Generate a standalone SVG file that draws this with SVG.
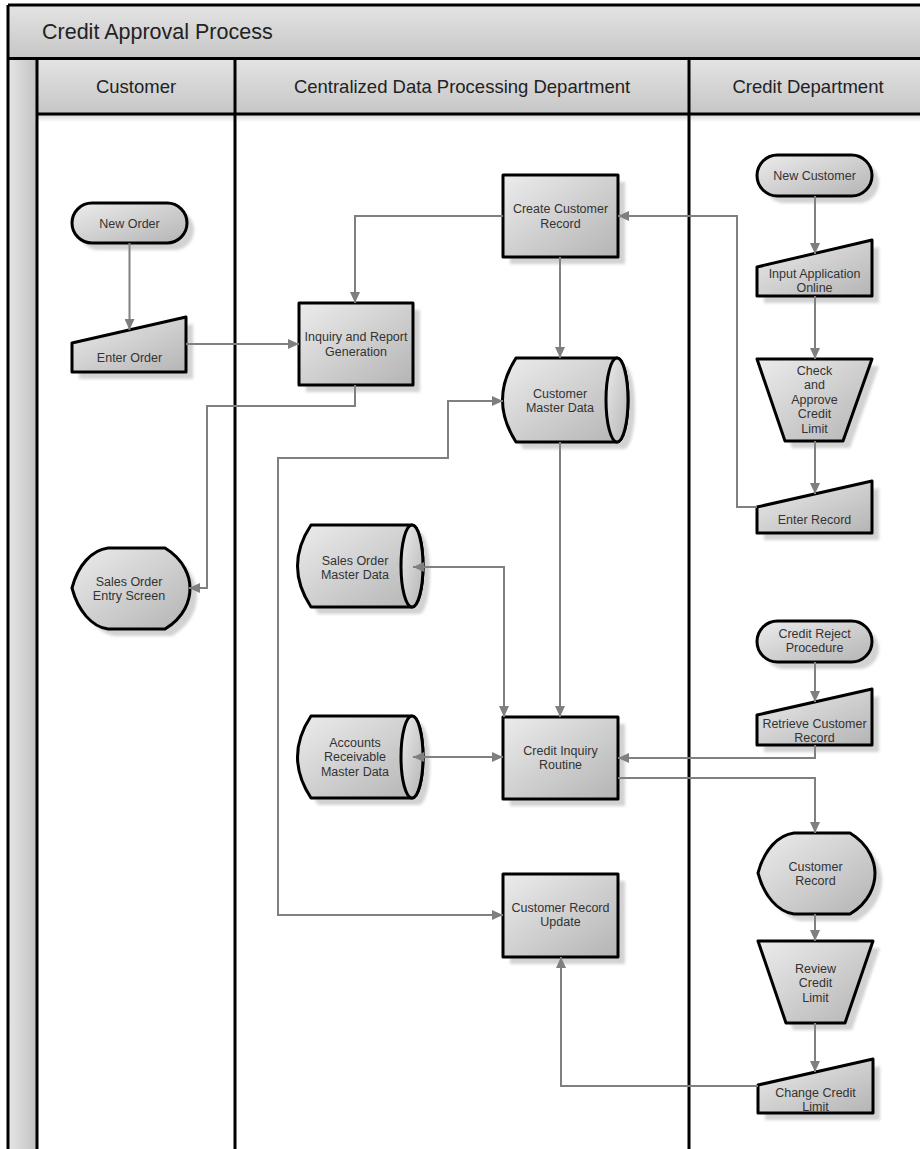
<svg xmlns="http://www.w3.org/2000/svg" width="920" height="1149" viewBox="0 0 920 1149">
<defs>
<linearGradient id="gNode" x1="0" y1="0" x2="1" y2="1"><stop offset="0" stop-color="#ececec"/><stop offset="1" stop-color="#b4b4b4"/></linearGradient>
<linearGradient id="gHead" x1="0" y1="0" x2="0" y2="1"><stop offset="0" stop-color="#e4e4e4"/><stop offset="1" stop-color="#c6c6c6"/></linearGradient>
<linearGradient id="gBand" x1="0" y1="0" x2="1" y2="0"><stop offset="0" stop-color="#e6e6e6"/><stop offset="1" stop-color="#c2c2c2"/></linearGradient>
<linearGradient id="gStrip" x1="0" y1="0" x2="0" y2="1"><stop offset="0" stop-color="#d6d6d6"/><stop offset="1" stop-color="#ffffff"/></linearGradient>
<filter id="blur" x="-10%" y="-10%" width="120%" height="120%"><feGaussianBlur stdDeviation="1.5"/></filter>
<marker id="arr" markerUnits="userSpaceOnUse" markerWidth="12" markerHeight="10" refX="11" refY="5" orient="auto-start-reverse"><path d="M0,0 L11,5 L0,10 Z" fill="#7f7f7f"/></marker>
<style>
.shape{fill:url(#gNode);stroke:#000;stroke-width:3;stroke-linejoin:round}
.shadow{fill:#d2d2d2;filter:url(#blur)}
.t{font-family:"Liberation Sans",Arial,sans-serif;font-size:12.5px;fill:#333;text-anchor:middle}
.h{font-family:"Liberation Sans",Arial,sans-serif;font-size:18.5px;fill:#222;text-anchor:middle}
.ln{fill:none;stroke:#808080;stroke-width:2}
.a1{marker-end:url(#arr)}
.a2{marker-start:url(#arr);marker-end:url(#arr)}
.lane{stroke:#000;stroke-width:3}
</style>
</defs>
<rect x="0" y="0" width="920" height="1149" fill="#fff"/>
<g id="pool">
<rect x="8" y="5" width="920" height="53" fill="url(#gHead)"/>
<rect x="8" y="58" width="29" height="1100" fill="url(#gBand)"/>
<rect x="37" y="58" width="890" height="56" fill="url(#gHead)"/>
<rect x="37" y="115" width="890" height="7" fill="url(#gStrip)"/>
<line class="lane" x1="8" y1="5" x2="920" y2="5"/>
<line class="lane" x1="8" y1="5" x2="8" y2="1149"/>
<line class="lane" x1="8" y1="58.5" x2="920" y2="58.5"/>
<line class="lane" x1="37" y1="114" x2="920" y2="114"/>
<line class="lane" x1="37" y1="58" x2="37" y2="1149"/>
<line class="lane" x1="235" y1="58" x2="235" y2="1149"/>
<line class="lane" x1="689" y1="58" x2="689" y2="1149"/>
<text x="42" y="39" font-family="Liberation Sans,Arial,sans-serif" font-size="21.5" fill="#222">Credit Approval Process</text>
<text class="h" x="136" y="93">Customer</text>
<text class="h" x="462" y="93">Centralized Data Processing Department</text>
<text class="h" x="808" y="93">Credit Department</text>
</g>

<g id="new-order">
<rect class="shadow" x="79" y="210" width="115" height="40" rx="20"/>
<rect class="shape" x="72" y="203" width="115" height="40" rx="20"/>
<text class="t" x="129.5" y="227.5">New Order</text>
</g>
<g id="enter-order">
<path class="shadow" d="M79,350 L193,324 L193,379 L79,379 Z"/>
<path class="shape" d="M72,343 L186,317 L186,372 L72,372 Z"/>
<text class="t" x="129.5" y="361.5">Enter Order</text>
</g>
<g id="inquiry-report">
<rect class="shadow" x="306" y="310" width="114" height="82"/>
<rect class="shape" x="299" y="303" width="114" height="82"/>
<text class="t" x="356" y="340.5">Inquiry and Report</text>
<text class="t" x="356" y="355.5">Generation</text>
</g>
<g id="sales-order-entry-screen">
<path class="shadow" d="M79,595 C85,572 99,557 115,555 L172,555 C192,567 197,585 197,595 C197,607 192,624 172,636 L115,636 C99,634 85,618 79,595 Z"/>
<path class="shape" d="M72,588 C78,565 92,550 108,548 L165,548 C185,560 190,578 190,588 C190,600 185,617 165,629 L108,629 C92,627 78,611 72,588 Z"/>
<text class="t" x="129" y="585.5">Sales Order</text>
<text class="t" x="129" y="599.5">Entry Screen</text>
</g>

<g id="create-customer-record">
<rect class="shadow" x="510" y="182" width="115" height="82"/>
<rect class="shape" x="503" y="175" width="115" height="82"/>
<text class="t" x="560.5" y="212.5">Create Customer</text>
<text class="t" x="560.5" y="227.5">Record</text>
</g>
<g id="customer-master-data">
<path class="shadow" d="M523,365 L624,365 A11,42 0 0 1 624,449 L523,449 Q496,407 523,365 Z"/>
<path class="shape" d="M516,358 L617,358 A11,42 0 0 1 617,442 L516,442 Q489,400 516,358 Z"/>
<ellipse class="shape" cx="617" cy="400" rx="11" ry="42"/>
<text class="t" x="560" y="397.5">Customer</text>
<text class="t" x="560" y="411.5">Master Data</text>
</g>
<g id="sales-order-master-data">
<path class="shadow" d="M318,532 L419,532 A11,41 0 0 1 419,614 L318,614 Q291,573 318,532 Z"/>
<path class="shape" d="M311,525 L412,525 A11,41 0 0 1 412,607 L311,607 Q284,566 311,525 Z"/>
<ellipse class="shape" cx="412" cy="566" rx="11" ry="41"/>
<text class="t" x="355" y="564.5">Sales Order</text>
<text class="t" x="355" y="578.5">Master Data</text>
</g>
<g id="accounts-receivable-master-data">
<path class="shadow" d="M318,723 L419,723 A11,41 0 0 1 419,805 L318,805 Q291,764 318,723 Z"/>
<path class="shape" d="M311,716 L412,716 A11,41 0 0 1 412,798 L311,798 Q284,757 311,716 Z"/>
<ellipse class="shape" cx="412" cy="757" rx="11" ry="41"/>
<text class="t" x="355" y="746.5">Accounts</text>
<text class="t" x="355" y="761">Receivable</text>
<text class="t" x="355" y="775.5">Master Data</text>
</g>
<g id="credit-inquiry-routine">
<rect class="shadow" x="510" y="724" width="115" height="82"/>
<rect class="shape" x="503" y="717" width="115" height="82"/>
<text class="t" x="560.5" y="754.5">Credit Inquiry</text>
<text class="t" x="560.5" y="768.5">Routine</text>
</g>
<g id="customer-record-update">
<rect class="shadow" x="510" y="881" width="115" height="83"/>
<rect class="shape" x="503" y="874" width="115" height="83"/>
<text class="t" x="560.5" y="911.5">Customer Record</text>
<text class="t" x="560.5" y="925.5">Update</text>
</g>

<g id="new-customer">
<rect class="shadow" x="764" y="162" width="115" height="41" rx="20.5"/>
<rect class="shape" x="757" y="155" width="115" height="41" rx="20.5"/>
<text class="t" x="814.5" y="179.5">New Customer</text>
</g>
<g id="input-application-online">
<path class="shadow" d="M764,274 L879,247 L879,303 L764,303 Z"/>
<path class="shape" d="M757,267 L872,240 L872,296 L757,296 Z"/>
<text class="t" x="814.5" y="277.5">Input Application</text>
<text class="t" x="814.5" y="291.5">Online</text>
</g>
<g id="check-approve-credit-limit">
<path class="shadow" d="M764,366 L879,366 L850,448 L792,448 Z"/>
<path class="shape" d="M757,359 L872,359 L843,441 L785,441 Z"/>
<text class="t" x="814.5" y="374.5">Check</text>
<text class="t" x="814.5" y="389">and</text>
<text class="t" x="814.5" y="403.5">Approve</text>
<text class="t" x="814.5" y="418">Credit</text>
<text class="t" x="814.5" y="432.5">Limit</text>
</g>
<g id="enter-record">
<path class="shadow" d="M764,514 L879,488 L879,540 L764,540 Z"/>
<path class="shape" d="M757,507 L872,481 L872,533 L757,533 Z"/>
<text class="t" x="814.5" y="523.5">Enter Record</text>
</g>
<g id="credit-reject-procedure">
<rect class="shadow" x="764" y="628" width="115" height="41" rx="20.5"/>
<rect class="shape" x="757" y="621" width="115" height="41" rx="20.5"/>
<text class="t" x="814.5" y="637.5">Credit Reject</text>
<text class="t" x="814.5" y="652">Procedure</text>
</g>
<g id="retrieve-customer-record">
<path class="shadow" d="M764,722 L879,696 L879,752 L764,752 Z"/>
<path class="shape" d="M757,715 L872,689 L872,745 L757,745 Z"/>
<text class="t" x="814.5" y="727.5">Retrieve Customer</text>
<text class="t" x="814.5" y="741.5">Record</text>
</g>
<g id="customer-record">
<path class="shadow" d="M765,880 C771,857 785,842 801,840 L857,840 C877,852 882,870 882,880 C882,892 877,909 857,921 L801,921 C785,919 771,903 765,880 Z"/>
<path class="shape" d="M758,873 C764,850 778,835 794,833 L850,833 C870,845 875,863 875,873 C875,885 870,902 850,914 L794,914 C778,912 764,896 758,873 Z"/>
<text class="t" x="815.5" y="870.5">Customer</text>
<text class="t" x="815.5" y="884.5">Record</text>
</g>
<g id="review-credit-limit">
<path class="shadow" d="M765,948 L880,948 L852,1030 L793,1030 Z"/>
<path class="shape" d="M758,941 L873,941 L845,1023 L786,1023 Z"/>
<text class="t" x="815.5" y="972.5">Review</text>
<text class="t" x="815.5" y="987">Credit</text>
<text class="t" x="815.5" y="1001.5">Limit</text>
</g>
<g id="change-credit-limit">
<path class="shadow" d="M765,1092 L880,1066 L880,1120 L765,1120 Z"/>
<path class="shape" d="M758,1085 L873,1059 L873,1113 L758,1113 Z"/>
<text class="t" x="815.5" y="1096.5">Change Credit</text>
<text class="t" x="815.5" y="1110.5">Limit</text>
</g>

<g id="connectors">
<path class="ln a1" d="M129.5,243 V330"/>
<path class="ln a1" d="M186,344 H299"/>
<path class="ln a1" d="M503,216 H355 V303"/>
<path class="ln a1" d="M355,385 V406 H207 V588 H189"/>
<path class="ln a1" d="M560,257 V358"/>
<path class="ln a1" d="M757,507 H737 V216 H618"/>
<path class="ln a1" d="M560,442 V717"/>
<path class="ln a2" d="M413,567 H504 V717"/>
<path class="ln a2" d="M413,757 H503"/>
<path class="ln a2" d="M503,915 H278 V458 H448 V401 H503"/>
<path class="ln a1" d="M815,196 V254"/>
<path class="ln a1" d="M815,296 V359"/>
<path class="ln a1" d="M815,441 V494"/>
<path class="ln a1" d="M815,662 V702"/>
<path class="ln a1" d="M815,745 V758 H618"/>
<path class="ln a1" d="M618,778 H815 V833"/>
<path class="ln a1" d="M815,914 V941"/>
<path class="ln a1" d="M815,1023 V1072"/>
<path class="ln a1" d="M758,1086 H561 V957"/>
</g>
</svg>
